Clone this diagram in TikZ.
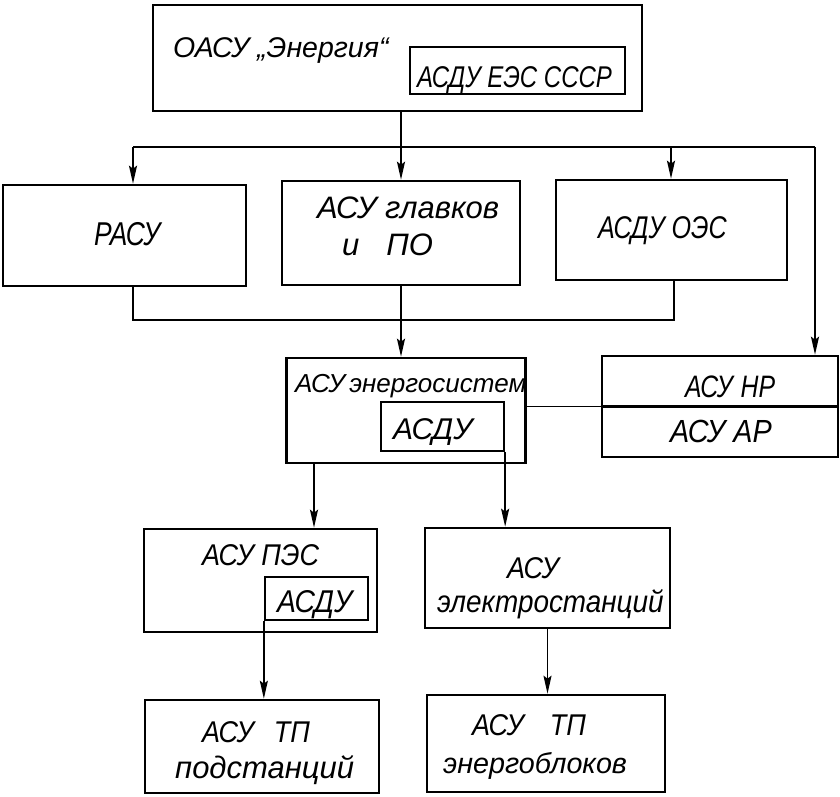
\documentclass[tikz,border=0pt]{standalone}
\usepackage{fontspec}
\setmainfont{Liberation Sans}
\newfontfamily\gA{Liberation Sans}[FakeStretch=0.8]
\newfontfamily\gB{Liberation Sans}[FakeStretch=0.9]
\newfontfamily\gC{Liberation Sans}
\usetikzlibrary{arrows.meta,calc}
\begin{document}
\begin{tikzpicture}[x=1pt,y=-1pt,
  box/.style={draw, line width=2.6pt, rectangle, inner sep=0pt},
  ibox/.style={draw, line width=2.3pt, rectangle, inner sep=0pt},
  txt/.style={inner sep=0pt, anchor=base west},
  conn/.style={line width=1.8pt},
  arr/.style={conn, -{Stealth[length=18pt,width=8pt,inset=3pt]}}]
\useasboundingbox (0,0) rectangle (840,797);
% boxes
\node[box, minimum width=489pt, minimum height=106pt] (top) at (397.5,58) {};
\node[ibox, minimum width=215pt, minimum height=47pt] (ees) at (517.5,70.5) {};
\node[box, minimum width=243pt, minimum height=101pt] (rasu) at (124.5,235.5) {};
\node[box, minimum width=238pt, minimum height=104pt] (glav) at (401,233) {};
\node[box, minimum width=231pt, minimum height=100pt] (oes) at (671.5,230) {};
\node[box, minimum width=239pt, minimum height=105pt] (ensys) at (406,410.5) {};
\node[ibox, minimum width=123pt, minimum height=49pt] (asdu1) at (442.5,426.5) {};
\node[box, minimum width=236pt, minimum height=101pt] (nrar) at (720,406.5) {};
\node[box, minimum width=233pt, minimum height=103pt] (pes) at (260.5,580.5) {};
\node[ibox, minimum width=103pt, minimum height=43pt] (asdu2) at (316.5,598.5) {};
\node[box, minimum width=245pt, minimum height=100pt] (elec) at (547.5,578) {};
\node[box, minimum width=234pt, minimum height=93pt] (podst) at (262,746.5) {};
\node[box, minimum width=238pt, minimum height=97pt] (bloc) at (546,743.5) {};
% texts
\node[txt, font=\gC\itshape\fontsize{28.5}{30}\selectfont] (t1) at (173,58) {ОАСУ „Энергия“};
\node[txt, font=\gA\itshape\fontsize{30}{30}\selectfont] (t2) at (417,88) {АСДУ ЕЭС СССР};
\node[txt, font=\gA\itshape\fontsize{33}{30}\selectfont] (t3) at (94,245) {РАСУ};
\node[txt, font=\gC\itshape\fontsize{31}{30}\selectfont] (t4) at (317,218) {АСУ главков};
\node[txt, font=\gC\itshape\fontsize{31}{30}\selectfont] (t5) at (342,255) {и\hspace{27pt}ПО};
\node[txt, font=\gA\itshape\fontsize{31.4}{30}\selectfont] (t6) at (598,238) {АСДУ ОЭС};
\node[txt, font=\gC\itshape\fontsize{26}{30}\selectfont] (t7) at (295,392) {АСУ\,энергосистем};
\node[txt, font=\gC\itshape\fontsize{30}{30}\selectfont] (t8) at (393,439) {АСДУ};
\node[txt, font=\gA\itshape\fontsize{31}{30}\selectfont] (t9) at (685,397) {АСУ\hspace{8pt}НР};
\node[txt, font=\gB\itshape\fontsize{32}{30}\selectfont] (t10) at (670,442) {АСУ АР};
\node[txt, font=\gB\itshape\fontsize{30}{30}\selectfont] (t11) at (202,565) {АСУ ПЭС};
\node[txt, font=\gB\itshape\fontsize{31.5}{30}\selectfont] (t12) at (277,612) {АСДУ};
\node[txt, font=\gB\itshape\fontsize{30}{30}\selectfont] (t13) at (507,578) {АСУ};
\node[txt, font=\gB\itshape\fontsize{31}{30}\selectfont] (t14) at (437,612) {электростанций};
\node[txt, font=\gB\itshape\fontsize{30}{30}\selectfont] (t15) at (202,742) {АСУ\hspace{20pt}ТП};
\node[txt, font=\gC\itshape\fontsize{31}{30}\selectfont] (t16) at (175,778) {подстанций};
\node[txt, font=\gB\itshape\fontsize{30}{30}\selectfont] (t17) at (472,735) {АСУ\hspace{26pt}ТП};
\node[txt, font=\gC\itshape\fontsize{28.7}{30}\selectfont] (t18) at (443,773) {энергоблоков};
% connectors
\coordinate (busL) at (133,147);
\coordinate (busR) at (815,147);
\coordinate (busO) at (671,147);
\coordinate (bus2L) at (133,320);
\coordinate (bus2R) at (674,320);
\coordinate (a1) at (314,0);
\draw[arr] (top.south -| glav.north) -- (glav.north);
\draw[conn] (busL) -- (busR);
\draw[arr] (busL) -- (busL |- rasu.north);
\draw[arr] (busO) -- (busO |- oes.north);
\draw[arr] (busR) -- (busR |- nrar.north);
\draw[conn] (rasu.south -| bus2L) -- (bus2L) -- (bus2R) -- (bus2R |- oes.south);
\draw[arr] (glav.south) -- (glav.south |- ensys.north);
\draw[conn] (ensys.east |- nrar.west) -- (nrar.west);
\draw[line width=2.6pt] (nrar.west) -- (nrar.east);
\draw[arr] (ensys.south -| a1) -- (pes.north -| a1);
\draw[arr] (asdu1.south east) -- (asdu1.south east |- elec.north);
\draw[arr] (asdu2.south west) -- (asdu2.south west |- podst.north);
\draw[arr] (elec.south) -- (elec.south |- bloc.north);
\end{tikzpicture}
\end{document}
